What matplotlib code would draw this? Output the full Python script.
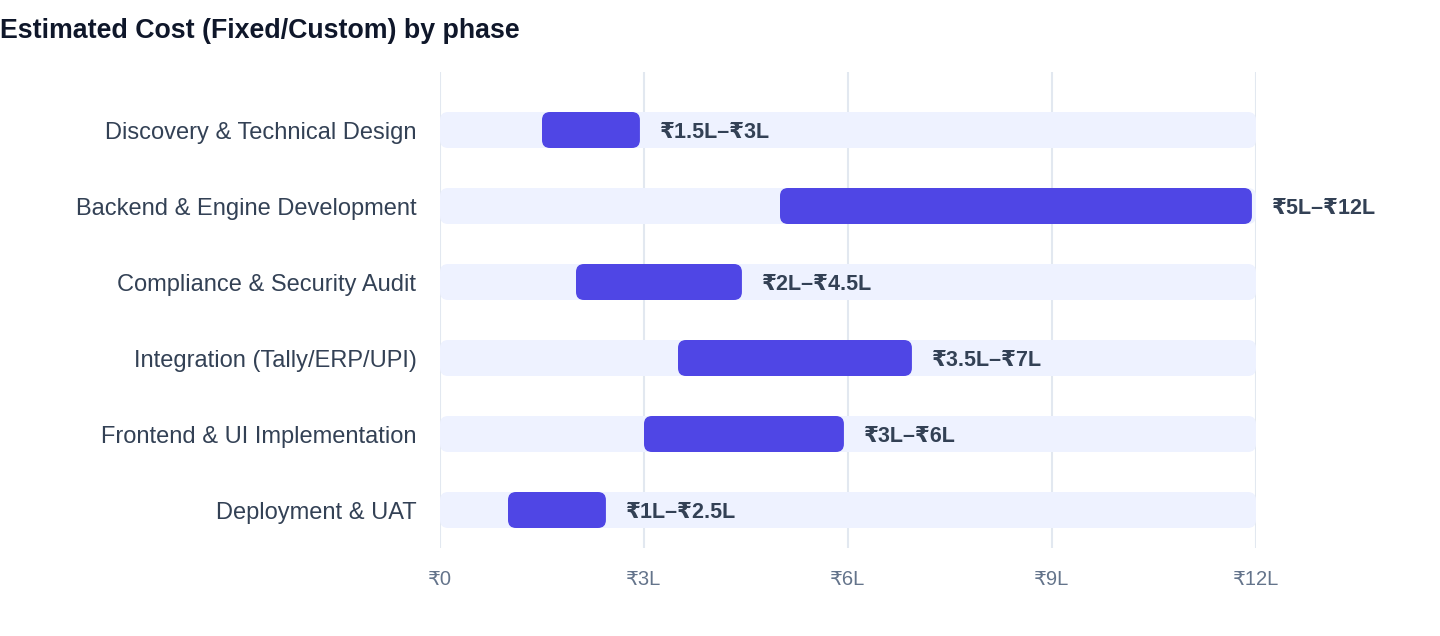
import matplotlib.pyplot as plt
from matplotlib.patches import FancyBboxPatch

# data
phases = [
    "Discovery & Technical Design",
    "Backend & Engine Development",
    "Compliance & Security Audit",
    "Integration (Tally/ERP/UPI)",
    "Frontend & UI Implementation",
    "Deployment & UAT",
]
low = [1.5, 5, 2, 3.5, 3, 1]      # lakh
high = [3, 12, 4.5, 7, 6, 2.5]    # lakh
ticks = [0, 3, 6, 9, 12]
xmax = 12

FONT = ["Liberation Sans", "DejaVu Sans"]
plt.rcParams["font.family"] = FONT

TRACK = "#EEF2FF"
BAR = "#4F46E5"
GRID = "#E2E8F0"
LABEL = "#334155"


def fmt(v):
    if v == 0:
        return "₹0"
    return "₹%gL" % v


W, H = 1440, 636
fig = plt.figure(figsize=(W / 100, H / 100), dpi=100)
ax = fig.add_axes([440 / W, 1 - 548 / H, (1256 - 440) / W, (548 - 72) / H])

ax.set_xlim(0, xmax)
ax.set_ylim(5.5, -58 / 76)

px_x = 68.0   # pixels per unit x
px_y = 76.0   # pixels per row
bh = 36 / px_y
r = 8 / px_x

for i in range(len(phases)):
    track = FancyBboxPatch((0, i - bh / 2), xmax, bh,
                           boxstyle="round,pad=0,rounding_size=%f" % r,
                           mutation_aspect=px_x / px_y,
                           fc=TRACK, ec="none", zorder=1)
    ax.add_patch(track)
    bar = FancyBboxPatch((low[i], i - bh / 2), high[i] - low[i] - 0.06, bh,
                         boxstyle="round,pad=0,rounding_size=%f" % r,
                         mutation_aspect=px_x / px_y,
                         fc=BAR, ec="none", zorder=2)
    ax.add_patch(bar)
    ax.text(high[i] + 16 / px_x, i + 2 / px_y, fmt(low[i]) + "–" + fmt(high[i]),
            va="center", ha="left", fontsize=15.5, fontweight="bold",
            color=LABEL, clip_on=False, zorder=3)

ax.set_xticks(ticks)
ax.set_xticklabels([fmt(t) for t in ticks], color="#64748B", fontsize=14.5)
ax.set_yticks(range(len(phases)))
ax.set_yticklabels(phases, color=LABEL, fontsize=17)
ax.tick_params(axis="x", length=0, pad=16)
ax.tick_params(axis="y", length=0, pad=17)
ax.grid(axis="x", color=GRID, linewidth=1.5, zorder=0)
ax.set_axisbelow(True)
for s in ax.spines.values():
    s.set_visible(False)

fig.text(0, 1 - 31 / H, "Estimated Cost (Fixed/Custom) by phase",
         fontsize=19.3, fontweight="bold", color="#0F172A", va="center", ha="left")

fig.savefig("out.png", dpi=100, facecolor="white")
